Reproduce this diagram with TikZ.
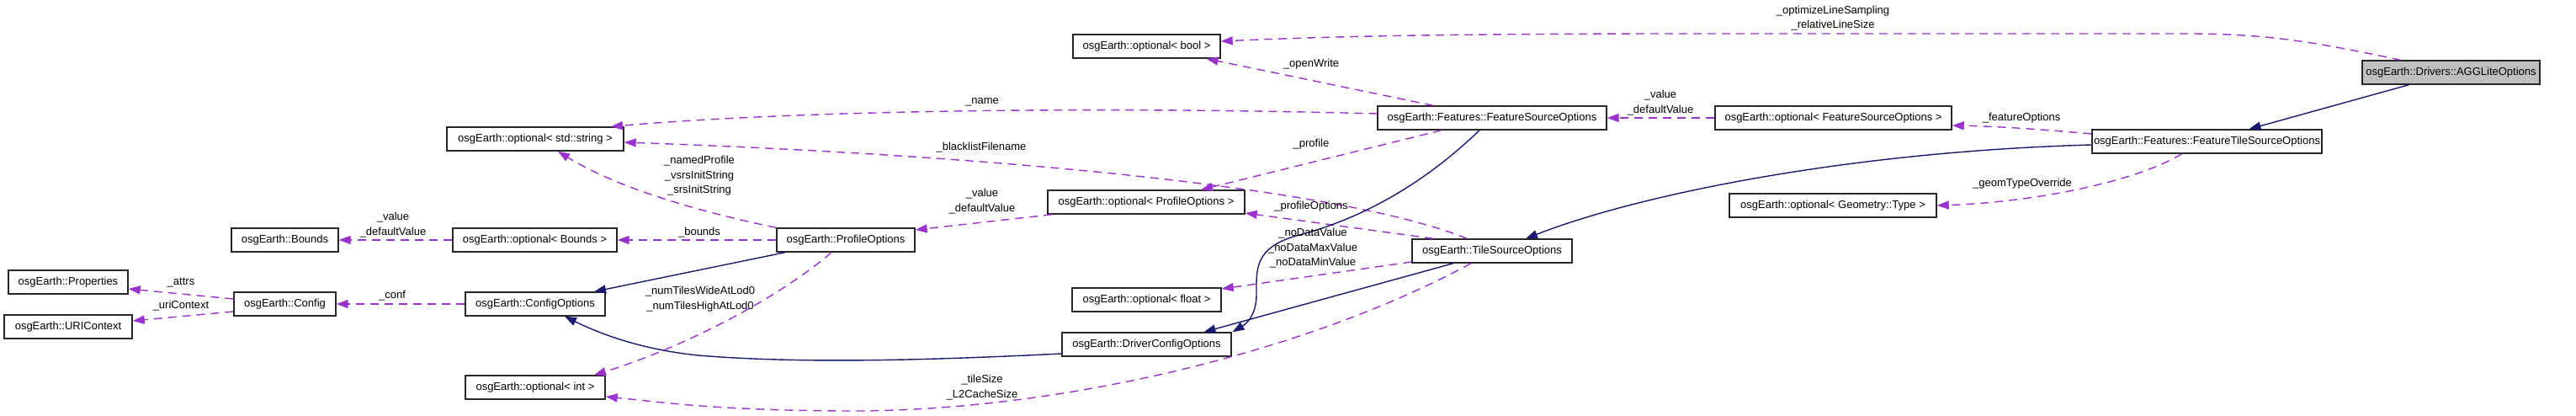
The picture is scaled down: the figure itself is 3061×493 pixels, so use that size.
\documentclass[tikz,border=0pt]{standalone}
\usepackage{fontspec}
\setmainfont{Liberation Sans}
\usetikzlibrary{arrows.meta}
\definecolor{edgepurple}{HTML}{9A32CD}
\definecolor{edgenavy}{HTML}{191970}
\begin{document}
\begin{tikzpicture}[x=1pt,y=-1pt,
 cls/.style={draw=black!85, line width=1.4pt, fill=white, minimum height=28pt, inner sep=0pt, font=\fontsize{13}{16}\selectfont},
 lbl/.style={align=center, inner sep=0pt, font=\fontsize{13}{17.5}\selectfont},
 uses/.style={draw=edgepurple, line width=1.4pt, dash pattern=on 10pt off 7pt, -{Triangle[length=14pt,width=10pt,fill=edgepurple]}},
 inh/.style={draw=edgenavy, line width=1.4pt, -{Triangle[length=14pt,width=10pt,fill=edgenavy]}}]
\useasboundingbox[fill=white] (0,0) rectangle (3061,493);

% class nodes
\node[cls, minimum width=211pt, fill=black!25] (agg) at (2912.5,86) {osgEarth::Drivers::AGGLiteOptions};
\node[cls, minimum width=273pt] (ftso) at (2622.5,168) {osgEarth::Features::FeatureTileSourceOptions};
\node[cls, minimum width=281pt] (ofso) at (2178.5,140) {osgEarth::optional< FeatureSourceOptions >};
\node[cls, minimum width=246pt] (ogeom) at (2178,244) {osgEarth::optional< Geometry::Type >};
\node[cls, minimum width=272pt] (fso) at (1773,140) {osgEarth::Features::FeatureSourceOptions};
\node[cls, minimum width=190pt] (tso) at (1773,298) {osgEarth::TileSourceOptions};
\node[cls, minimum width=175pt] (obool) at (1362.5,55) {osgEarth::optional< bool >};
\node[cls, minimum width=234pt] (opo) at (1362,240) {osgEarth::optional< ProfileOptions >};
\node[cls, minimum width=177pt] (ofloat) at (1362.5,356) {osgEarth::optional< float >};
\node[cls, minimum width=201pt] (dco) at (1362.5,409) {osgEarth::DriverConfigOptions};
\node[cls, minimum width=210pt] (ostr) at (636,165) {osgEarth::optional< std::string >};
\node[cls, minimum width=164pt] (po) at (1005,285) {osgEarth::ProfileOptions};
\node[cls, minimum width=195pt] (obounds) at (635.5,285) {osgEarth::optional< Bounds >};
\node[cls, minimum width=166pt] (co) at (636,361) {osgEarth::ConfigOptions};
\node[cls, minimum width=166pt] (oint) at (636,460) {osgEarth::optional< int >};
\node[cls, minimum width=127pt] (bounds) at (338.5,285) {osgEarth::Bounds};
\node[cls, minimum width=121pt] (config) at (338.5,361) {osgEarth::Config};
\node[cls, minimum width=142pt] (props) at (81,335) {osgEarth::Properties};
\node[cls, minimum width=152pt] (uri) at (81,388) {osgEarth::URIContext};

% usage edges (purple dashed)
\draw[uses] ([xshift=-60pt]agg.north) .. controls (2760,52) and (2700,40) .. (2600,40) -- (2000,40) .. controls (1700,40) and (1560,44) .. ([yshift=6pt]obool.east);
\draw[uses] ([xshift=-70pt]fso.north) -- ([xshift=71pt]obool.south);
\draw[uses] ([yshift=5pt]fso.west) .. controls (1300,126) and (950,131) .. ([xshift=90pt]ostr.north);
\draw[uses] ([xshift=-60pt]fso.south) -- ([xshift=65pt]opo.north);
\draw[uses] (ofso.west) -- (fso.east);
\draw[uses] ([yshift=9pt]ftso.west) .. controls (2420,153) and (2370,150) .. ([yshift=-9pt]ofso.east);
\draw[uses] ([xshift=-30pt]ftso.south) .. controls (2540,215) and (2420,240) .. (ogeom.east);
\draw[uses] ([xshift=-30pt]tso.north) .. controls (1600,225) and (1200,185) .. ([yshift=-4pt]ostr.east);
\draw[uses] ([xshift=-70pt]tso.north) -- ([yshift=-13pt]opo.east);
\draw[uses] ([yshift=-13pt]tso.west) -- ([yshift=13pt]ofloat.east);
\draw[uses] ([xshift=-25pt]tso.south) .. controls (1550,420) and (1250,490) .. (1000,488) .. controls (850,487) and (790,478) .. ([yshift=-11pt]oint.east);
\draw[uses] (po.north west) .. controls (800,245) and (720,215) .. ([xshift=27pt]ostr.south);
\draw[uses] (po.west) -- (obounds.east);
\draw[uses] ([xshift=-17pt]po.south) .. controls (930,350) and (820,410) .. ([xshift=70pt]oint.north);
\draw[uses] ([xshift=-112pt]opo.south) -- ([yshift=12pt]po.east);
\draw[uses] (obounds.west) -- (bounds.east);
\draw[uses] (co.west) -- (config.east);
\draw[uses] ([yshift=6pt]config.west) -- ([yshift=-8pt]props.east);
\draw[uses] ([yshift=-9pt]config.west) -- ([yshift=7pt]uri.east);

% inheritance edges (navy)
\draw[inh] ([xshift=-50pt]agg.south) -- ([xshift=50pt]ftso.north);
\draw[inh] ([yshift=-4pt]ftso.west) .. controls (2200,180) and (1950,230) .. ([xshift=40pt]tso.north);
\draw[inh] ([xshift=-46pt]tso.south) -- ([xshift=68pt]dco.north);
\draw[inh] ([xshift=-15pt]fso.south) .. controls (1680,230) and (1600,265) .. (1540,280) .. controls (1490,295) and (1493,320) .. (1493,350) .. controls (1493,375) and (1480,385) .. ([xshift=102pt]dco.north);
\draw[inh] ([xshift=-72pt]po.south) -- ([xshift=70pt]co.north);
\draw[inh] ([yshift=-11pt]dco.west) .. controls (1100,428) and (950,432) .. (830,422) .. controls (760,415) and (710,395) .. ([xshift=35pt]co.south);

% edge labels
\node[lbl] (l1) at (2178,21.5) {\_optimizeLineSampling\\\_relativeLineSize};
\node[lbl] (l2) at (1558,76) {\_openWrite};
\node[lbl] (l3) at (1167,121) {\_name};
\node[lbl] (l4) at (1558,171) {\_profile};
\node[lbl] (l5) at (1973,122) {\_value\\\_defaultValue};
\node[lbl] (l6) at (2402,140) {\_featureOptions};
\node[lbl] (l7) at (2403,218) {\_geomTypeOverride};
\node[lbl] (l8) at (1166,175) {\_blacklistFilename};
\node[lbl] (l9) at (1558,245) {\_profileOptions};
\node[lbl] (l10) at (1560,295) {\_noDataValue\\\_noDataMaxValue\\\_noDataMinValue};
\node[lbl] (l11) at (1167,460) {\_tileSize\\\_L2CacheSize};
\node[lbl] (l12) at (1167,239) {\_value\\\_defaultValue};
\node[lbl] (l13) at (831,209) {\_namedProfile\\\_vsrsInitString\\\_srsInitString};
\node[lbl] (l14) at (831,276) {\_bounds};
\node[lbl] (l15) at (832,355) {\_numTilesWideAtLod0\\\_numTilesHighAtLod0};
\node[lbl] (l16) at (467,267) {\_value\\\_defaultValue};
\node[lbl] (l17) at (466,351) {\_conf};
\node[lbl] (l18) at (215,336) {\_attrs};
\node[lbl] (l19) at (215,363) {\_uriContext};
\end{tikzpicture}
\end{document}
